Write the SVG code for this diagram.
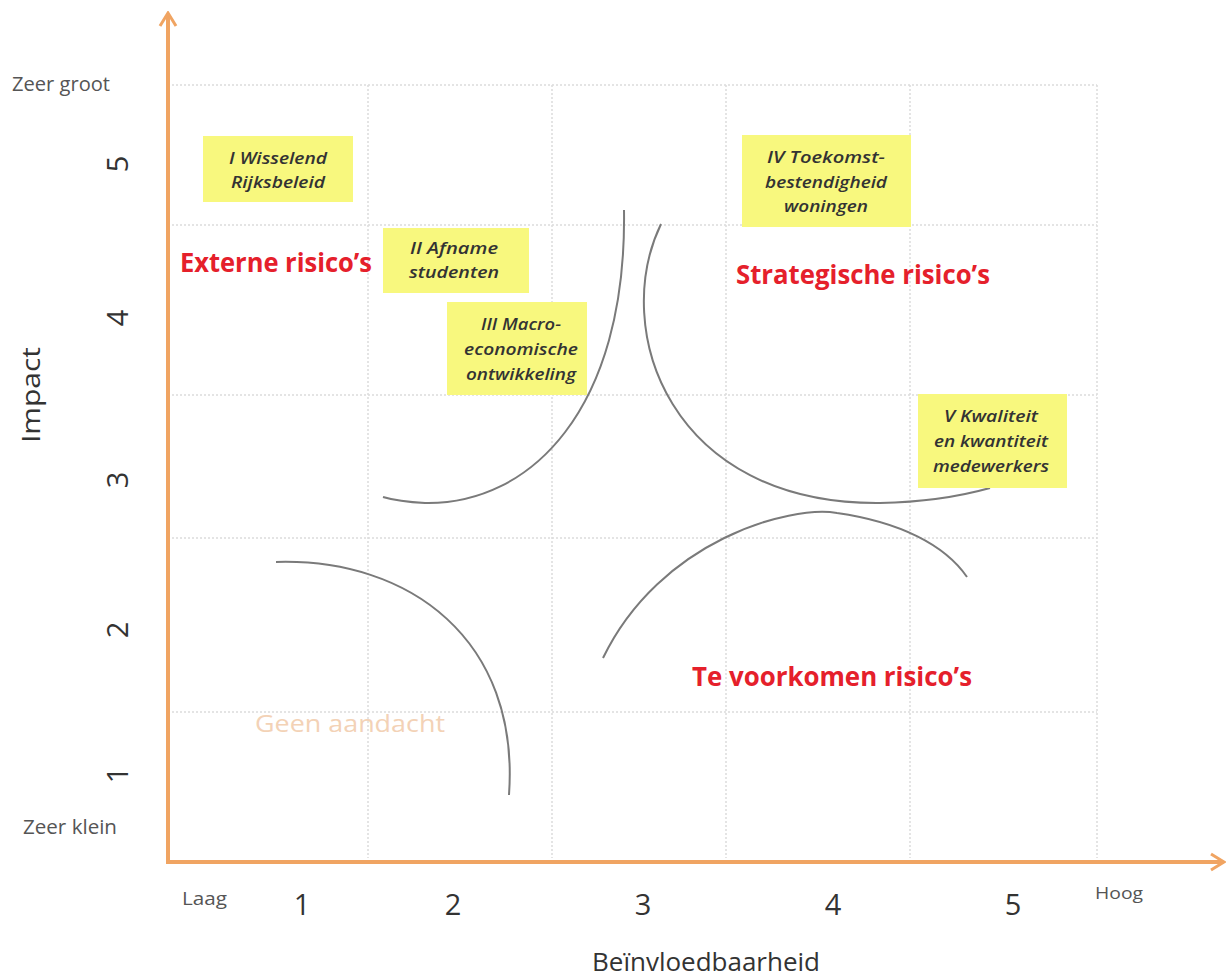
<svg xmlns="http://www.w3.org/2000/svg" width="1227" height="980" viewBox="0 0 1227 980">
<defs>
<style>
.grid{stroke:#dcdcdc;stroke-width:1.5;stroke-dasharray:2 2;fill:none}
.axis{stroke:#F0A462;stroke-width:4;fill:none}
.lbl{font-family:"Open Sans","Noto Sans","Liberation Sans",sans-serif;fill:#555}
.ttl{font-family:"Open Sans","Noto Sans","Liberation Sans",sans-serif;fill:#333}
.num{font-family:"Open Sans","Noto Sans","Liberation Sans",sans-serif;fill:#333;text-anchor:middle}
.red{font-family:"Open Sans","Noto Sans","Liberation Sans",sans-serif;fill:#E5202B;font-weight:bold;font-size:27px}
.box{fill:#F8F87E}
.bt{font-family:"Open Sans","Noto Sans","Liberation Sans",sans-serif;font-style:italic;font-weight:600;font-size:16px;fill:#333;text-anchor:middle}
.curve{stroke:#7a7a7a;stroke-width:2;fill:none}
</style>
<marker id="ah" markerWidth="16" markerHeight="20" refX="13" refY="10" orient="auto" markerUnits="userSpaceOnUse" viewBox="0 0 16 20">
<path d="M1,2 L14,10 L1,18" fill="none" stroke="#F0A462" stroke-width="3"/>
</marker>
</defs>
<rect width="1227" height="980" fill="#ffffff"/>
<g id="grid">
<path class="grid" d="M168,85 H1097 M168,225 H1097 M168,395 H1097 M168,538 H1097 M168,712 H1097 M368,85 V858 M552,85 V858 M726,85 V858 M910,85 V858 M1097,85 V858"/>
</g>
<g id="axes">
<path class="axis" d="M168,862 V14" marker-end="url(#ah)"/>
<path class="axis" d="M166,862 H1223" marker-end="url(#ah)"/>
</g>
<g id="connectors">
<path class="curve" d="M624,210 C627,410 530,505 425,503 C405,502 393,500 383,497"/>
<path class="curve" d="M661,224 C610,330 670,505 880,503 C930,502 965,495 990,488"/>
<path class="curve" d="M276,562 C410,558 520,640 509,795"/>
<path class="curve" d="M603,658 C660,540 790,505 837,513 C900,522 945,545 967,577"/>
</g>
<g id="axis-labels">
<text class="lbl" x="12" y="91" font-size="20" textLength="98" lengthAdjust="spacingAndGlyphs">Zeer groot</text>
<text class="lbl" x="23" y="834" font-size="20" textLength="94" lengthAdjust="spacingAndGlyphs">Zeer klein</text>
<text class="lbl" x="182" y="905" font-size="19" textLength="45" lengthAdjust="spacingAndGlyphs">Laag</text>
<text class="lbl" x="1095" y="899" font-size="17" textLength="48" lengthAdjust="spacingAndGlyphs">Hoog</text>
<text class="num" font-size="29" transform="translate(128,164) rotate(-90)">5</text>
<text class="num" font-size="29" transform="translate(128,318) rotate(-90)">4</text>
<text class="num" font-size="29" transform="translate(128,480) rotate(-90)">3</text>
<text class="num" font-size="29" transform="translate(128,630) rotate(-90)">2</text>
<text class="num" font-size="29" transform="translate(128,775) rotate(-90)">1</text>
<text class="num" font-size="29" x="302" y="915">1</text>
<text class="num" font-size="29" x="453" y="915">2</text>
<text class="num" font-size="29" x="643" y="915">3</text>
<text class="num" font-size="29" x="833" y="915">4</text>
<text class="num" font-size="29" x="1013" y="915">5</text>
<text class="ttl" font-size="26" text-anchor="middle" textLength="96" lengthAdjust="spacingAndGlyphs" transform="translate(40,395) rotate(-90)">Impact</text>
<text class="ttl" font-size="26" x="592" y="971" textLength="228" lengthAdjust="spacingAndGlyphs">Beïnvloedbaarheid</text>
</g>
<g id="region-labels">
<text class="red" x="180" y="272" textLength="192" lengthAdjust="spacingAndGlyphs">Externe risico’s</text>
<text class="red" x="736" y="284" textLength="254" lengthAdjust="spacingAndGlyphs">Strategische risico’s</text>
<text class="red" x="692" y="686" textLength="280" lengthAdjust="spacingAndGlyphs">Te voorkomen risico’s</text>
<text class="lbl" x="255" y="732" font-size="24" textLength="190" lengthAdjust="spacingAndGlyphs" style="fill:#F3D2B6">Geen aandacht</text>
</g>
<g id="node-I">
<rect class="box" x="203" y="136" width="150" height="66"/>
<text class="bt" x="278" y="164" textLength="98" lengthAdjust="spacingAndGlyphs">I Wisselend</text>
<text class="bt" x="278" y="188" textLength="94" lengthAdjust="spacingAndGlyphs">Rijksbeleid</text>
</g>
<g id="node-II">
<rect class="box" x="383" y="228" width="146" height="65"/>
<text class="bt" x="454" y="254" textLength="88" lengthAdjust="spacingAndGlyphs">II Afname</text>
<text class="bt" x="454" y="278" textLength="90" lengthAdjust="spacingAndGlyphs">studenten</text>
</g>
<g id="node-III">
<rect class="box" x="447" y="302" width="140" height="93"/>
<text class="bt" x="521" y="330" textLength="80" lengthAdjust="spacingAndGlyphs">III Macro-</text>
<text class="bt" x="521" y="355" textLength="114" lengthAdjust="spacingAndGlyphs">economische</text>
<text class="bt" x="521" y="380" textLength="110" lengthAdjust="spacingAndGlyphs">ontwikkeling</text>
</g>
<g id="node-IV">
<rect class="box" x="742" y="135" width="169" height="92"/>
<text class="bt" x="826" y="163" textLength="118" lengthAdjust="spacingAndGlyphs">IV Toekomst-</text>
<text class="bt" x="826" y="188" textLength="122" lengthAdjust="spacingAndGlyphs">bestendigheid</text>
<text class="bt" x="826" y="212" textLength="84" lengthAdjust="spacingAndGlyphs">woningen</text>
</g>
<g id="node-V">
<rect class="box" x="918" y="394" width="149" height="94"/>
<text class="bt" x="991" y="422" textLength="94" lengthAdjust="spacingAndGlyphs">V Kwaliteit</text>
<text class="bt" x="991" y="447" textLength="114" lengthAdjust="spacingAndGlyphs">en kwantiteit</text>
<text class="bt" x="991" y="472" textLength="116" lengthAdjust="spacingAndGlyphs">medewerkers</text>
</g>
</svg>
